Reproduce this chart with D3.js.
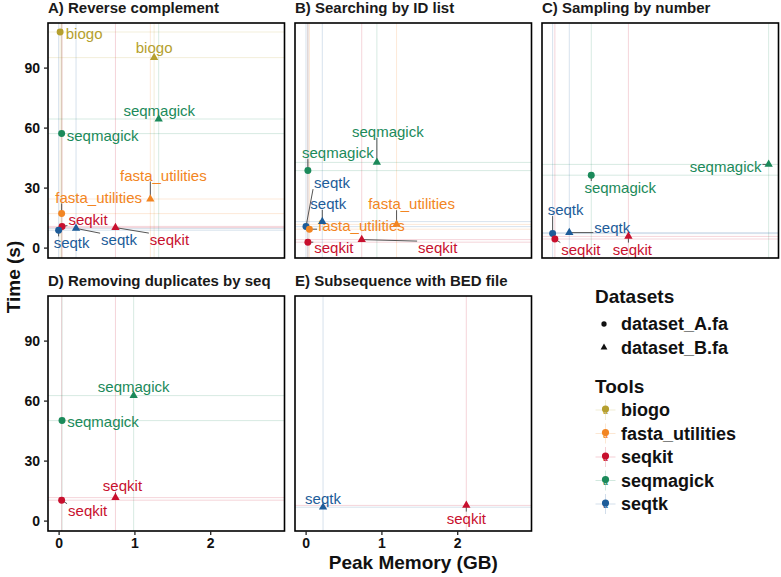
<!DOCTYPE html>
<html>
<head>
<meta charset="utf-8">
<script src="https://cdn.jsdelivr.net/npm/d3@7"></script>
<style>
  html, body { margin: 0; padding: 0; background: #fff; }
  svg { display: block; font-family: "Liberation Sans", Arial, Helvetica, sans-serif; }
</style>
</head>
<body>
<svg id="chart" width="781" height="577"></svg>
<script>
// ---------------- DATA ----------------
const panelTitles = ["A) Reverse complement", "B) Searching by ID list", "C) Sampling by number",
                     "D) Removing duplicates by seq", "E) Subsequence with BED file"];
const tools = ["biogo", "fasta_utilities", "seqkit", "seqmagick", "seqtk"];
const toolColors = ["#B59F2E", "#F28522", "#C8102E", "#1B8A5A", "#1D5C99"];
const datasets = ["dataset_A.fa", "dataset_B.fa"];
const xTicks = [0, 1, 2];
const yTicks = [0, 30, 60, 90];

// one entry per point
const pointPanel   = [0,0,0,0,0,0,0,0,0,0, 1,1,1,1,1,1,1,1, 2,2,2,2,2,2, 3,3,3,3, 4,4];
const pointTool    = ["biogo","biogo","seqmagick","seqmagick","fasta_utilities","fasta_utilities","seqkit","seqkit","seqtk","seqtk",
                      "seqmagick","seqmagick","seqtk","seqtk","fasta_utilities","fasta_utilities","seqkit","seqkit",
                      "seqmagick","seqmagick","seqtk","seqtk","seqkit","seqkit",
                      "seqmagick","seqmagick","seqkit","seqkit",
                      "seqtk","seqkit"];
const pointDataset = ["A","B","A","B","A","B","A","B","A","B",
                      "A","B","A","B","A","B","A","B",
                      "A","B","A","B","A","B",
                      "A","B","A","B",
                      "B","B"];
const memoryGB     = [0.02,1.26,0.04,1.32,0.04,1.21,0.045,0.75,0.0,0.23,
                      0.03,0.94,0.005,0.22,0.05,1.20,0.03,0.74,
                      0.51,2.85,0.0,0.22,0.03,1.00,
                      0.045,0.99,0.04,0.75,
                      0.23,2.12];
const timeS        = [107.8,95.0,57.0,64.3,17.0,24.3,10.6,10.0,8.7,9.6,
                      38.5,42.6,10.5,13.0,9.2,11.6,2.7,4.0,
                      36.2,41.6,7.0,7.5,4.3,5.6,
                      50.0,62.5,10.2,11.5,
                      6.7,7.6];
// repelled label offsets (px from the point to the label centre)
const labelDx = [24,0,41,0.6,37,13,26,54,13,43,
                 30,11,26,6,52,15,26,76,
                 29,-43,13,43,26,4,
                 41,0,26,7,
                 0,0];
const labelDy = [1,-10,1.4,-8.7,-16.6,-24,-7.3,12,12.7,11.3,
                 -18,-31,-44,-18.3,-3.7,-20.7,5,8,
                 12.3,2,-24,-5,10,12.7,
                 1.3,-9,10,-11.7,
                 -8.7,12.7];

// ---------------- LAYOUT ----------------
const svg = d3.select("#chart");
const panelW = 236.5, panelH = 235;
const colX = [48, 295, 542];
const rowY = [23, 296];
const panelPos = [[0,0],[1,0],[2,0],[0,1],[1,1]];

const x = d3.scaleLinear().domain([-0.14, 2.98]).range([0, panelW]);
const y = d3.scaleLinear().domain([-5.2, 112.3]).range([panelH, 0]);
const color = d3.scaleOrdinal().domain(tools).range(toolColors);

const points = memoryGB.map((m, i) => ({
  panel: pointPanel[i], tool: pointTool[i], ds: pointDataset[i],
  m, t: timeS[i], dx: labelDx[i], dy: labelDy[i]
}));

const defs = svg.append("defs");
const triangle = d3.symbol().type(d3.symbolTriangle).size(30)();

panelTitles.forEach((title, p) => {
  const [c, r] = panelPos[p];
  const g = svg.append("g").attr("transform", `translate(${colX[c]},${rowY[r]})`);
  defs.append("clipPath").attr("id", "clip" + p)
    .append("rect").attr("width", panelW).attr("height", panelH);

  // title
  g.append("text").attr("x", 0).attr("y", -10)
    .attr("font-size", 15).attr("font-weight", "bold").attr("fill", "#1a1a1a")
    .text(title);

  const pts = points.filter(d => d.panel === p);
  const inner = g.append("g").attr("clip-path", `url(#clip${p})`);

  // reference lines per point
  inner.selectAll("line.v").data(pts).join("line").attr("class", "v")
    .attr("x1", d => x(d.m)).attr("x2", d => x(d.m))
    .attr("y1", 0).attr("y2", panelH)
    .attr("stroke", d => color(d.tool)).attr("stroke-opacity", 0.2).attr("stroke-width", 0.9);
  inner.selectAll("line.h").data(pts).join("line").attr("class", "h")
    .attr("y1", d => y(d.t)).attr("y2", d => y(d.t))
    .attr("x1", 0).attr("x2", panelW)
    .attr("stroke", d => color(d.tool)).attr("stroke-opacity", 0.2).attr("stroke-width", 0.9);

  // labels (measure first, then draw segments underneath)
  const segG = inner.append("g");
  const labG = inner.append("g");
  const labels = labG.selectAll("text").data(pts).join("text")
    .attr("x", d => x(d.m) + d.dx).attr("y", d => y(d.t) + d.dy)
    .attr("text-anchor", "middle").attr("dominant-baseline", "central")
    .attr("font-size", 15).attr("fill", d => color(d.tool))
    .text(d => d.tool);
  labels.each(function(d) {
    const w = this.getComputedTextLength();
    const hw = w / 2 + 1, hh = 6.5;
    const px = x(d.m), py = y(d.t);
    const lx = px + d.dx, ly = py + d.dy;
    const nx = Math.max(lx - hw, Math.min(px, lx + hw));
    const ny = Math.max(ly - hh, Math.min(py, ly + hh));
    const dist = Math.hypot(nx - px, ny - py);
    if (dist > 5) {
      segG.append("line").attr("x1", px).attr("y1", py).attr("x2", nx).attr("y2", ny)
        .attr("stroke", "#555").attr("stroke-width", 1);
    }
  });

  // points
  inner.selectAll("path.pt").data(pts).join("path").attr("class", "pt")
    .attr("transform", d => `translate(${x(d.m)},${y(d.t)})`)
    .attr("d", d => d.ds === "A" ? d3.symbol().type(d3.symbolCircle).size(38)() : triangle)
    .attr("fill", d => color(d.tool));

  // border
  g.append("rect").attr("width", panelW).attr("height", panelH)
    .attr("fill", "none").attr("stroke", "#000").attr("stroke-width", 1.6);

  // axes
  if (c === 0) {
    const ay = g.append("g").call(d3.axisLeft(y).tickValues(yTicks).tickSize(4).tickPadding(4));
    ay.select(".domain").remove();
    ay.selectAll("line").attr("stroke", "#222").attr("stroke-width", 1.3);
    ay.selectAll("text").attr("font-size", 14).attr("font-weight", "bold").attr("fill", "#111")
      .attr("font-family", "Liberation Sans, Arial, sans-serif");
  }
  if (r === 1) {
    const ax = g.append("g").attr("transform", `translate(0,${panelH})`)
      .call(d3.axisBottom(x).tickValues(xTicks).tickSize(4).tickPadding(3).tickFormat(d3.format("d")));
    ax.select(".domain").remove();
    ax.selectAll("line").attr("stroke", "#222").attr("stroke-width", 1.3);
    ax.selectAll("text").attr("font-size", 14).attr("font-weight", "bold").attr("fill", "#111")
      .attr("font-family", "Liberation Sans, Arial, sans-serif");
  }
});

// axis titles
svg.append("text").attr("x", (colX[0] + colX[2] + panelW) / 2).attr("y", 569)
  .attr("text-anchor", "middle").attr("font-size", 19).attr("font-weight", "bold").attr("fill", "#111")
  .text("Peak Memory (GB)");
svg.append("text").attr("transform", `translate(20,${(rowY[0] + rowY[1] + panelH) / 2}) rotate(-90)`)
  .attr("text-anchor", "middle").attr("font-size", 19).attr("font-weight", "bold").attr("fill", "#111")
  .text("Time (s)");

// ---------------- LEGENDS ----------------
const lg = svg.append("g");
lg.append("text").attr("x", 595).attr("y", 303).attr("font-size", 19).attr("font-weight", "bold")
  .attr("fill", "#111").text("Datasets");
datasets.forEach((ds, i) => {
  const cy = 324 + i * 23.5;
  lg.append("path").attr("transform", `translate(604,${cy})`)
    .attr("d", i === 0 ? d3.symbol().type(d3.symbolCircle).size(22)() : d3.symbol().type(d3.symbolTriangle).size(20)())
    .attr("fill", "#111");
  lg.append("text").attr("x", 621).attr("y", cy).attr("dominant-baseline", "central")
    .attr("font-size", 18).attr("font-weight", "bold").attr("fill", "#111").text(ds);
});
lg.append("text").attr("x", 595).attr("y", 392.5).attr("font-size", 19).attr("font-weight", "bold")
  .attr("fill", "#111").text("Tools");
tools.forEach((t, i) => {
  const cy = 410 + i * 23.5;
  const cx = 605.5;
  lg.append("line").attr("x1", cx).attr("x2", cx).attr("y1", cy - 10).attr("y2", cy + 10)
    .attr("stroke", color(t)).attr("stroke-opacity", 0.2);
  lg.append("line").attr("x1", cx - 10).attr("x2", cx + 10).attr("y1", cy).attr("y2", cy)
    .attr("stroke", color(t)).attr("stroke-opacity", 0.2);
  lg.append("text").attr("x", cx).attr("y", cy + 4).attr("text-anchor", "middle")
    .attr("font-size", 8).attr("font-weight", "bold").attr("fill", color(t)).text("a");
  lg.append("path").attr("transform", `translate(${cx},${cy - 1})`)
    .attr("d", d3.symbol().type(d3.symbolCircle).size(40)()).attr("fill", color(t));
  lg.append("text").attr("x", 621).attr("y", cy).attr("dominant-baseline", "central")
    .attr("font-size", 18).attr("font-weight", "bold").attr("fill", "#111").text(t);
});
</script>
</body>
</html>
